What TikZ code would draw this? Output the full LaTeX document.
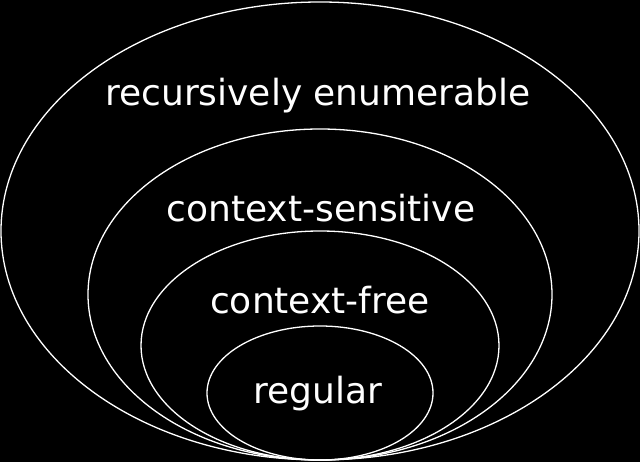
\documentclass[tikz,border=0pt]{standalone}
\usepackage{fontspec}
\setmainfont{DejaVu Sans}
\usetikzlibrary{shapes.geometric,backgrounds}

\begin{document}
\begin{tikzpicture}[
  x=1pt, y=-1pt,
  cls/.style={draw=white, ellipse, line width=1.3pt, inner sep=0pt},
  lab/.style={text=white, font=\fontsize{36}{42}\selectfont, anchor=base}
]
\fill[black] (0,0) rectangle (640,462);
\useasboundingbox (0,0) rectangle (640,462);
% nested language classes
\node[cls, minimum width=638pt, minimum height=458pt] (re) at (320,231) {};
\node[cls, minimum width=464pt, minimum height=331pt] (cs) at (320,294.5) {};
\node[cls, minimum width=358pt, minimum height=229pt] (cf) at (320,345.5) {};
\node[cls, minimum width=226pt, minimum height=134pt] (reg) at (320,393) {};
% labels
\node[lab] (relab) at (318,106) {recursively enumerable};
\node[lab] (cslab) at (321,222) {context-sensitive};
\node[lab] (cflab) at (320,314) {context-free};
\node[lab] (reglab) at (318,403) {regular};
\end{tikzpicture}
\end{document}
